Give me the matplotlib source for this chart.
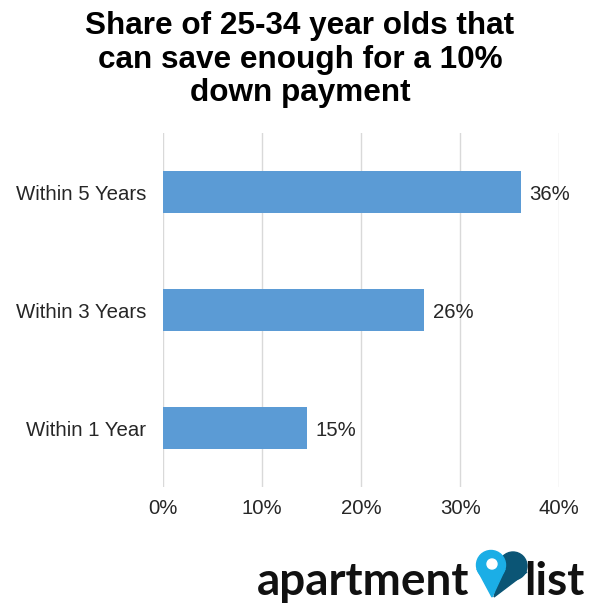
import matplotlib
matplotlib.use("Agg")
import matplotlib.pyplot as plt
from matplotlib.patches import Circle, Polygon

plt.rcParams['font.family'] = ['Liberation Sans', 'DejaVu Sans']

# data
categories = ["Within 1 Year", "Within 3 Years", "Within 5 Years"]
shares = [14.6, 26.4, 36.1]
x_ticks = [0, 10, 20, 30, 40]
x_tick_labels = ["0%", "10%", "20%", "30%", "40%"]
title = "Share of 25-34 year olds that\ncan save enough for a 10%\ndown payment"

W, H = 600, 613
fig = plt.figure(figsize=(W / 100, H / 100), dpi=100)

ax = fig.add_axes([162.7 / W, 126 / H, (559.3 - 162.7) / W, 354 / H])
bars = ax.barh(categories, shares, height=0.35, color="#5B9BD5", zorder=3)
lbls = ax.bar_label(bars, labels=[f"{v:.0f}%" for v in shares], padding=6,
                    fontsize=14.7, color="#262626")
for t in lbls:
    t.set_va("center_baseline")
ax.set_xlim(0, 40)
ax.set_ylim(-0.5, 2.5)
ax.set_xticks(x_ticks)
ax.set_xticklabels(x_tick_labels)
ax.tick_params(axis="x", length=0, pad=9, labelsize=14.7, labelcolor="#262626")
ax.tick_params(axis="y", length=0, pad=12, labelsize=14.7, labelcolor="#262626")
ax.grid(axis="x", color="#D9D9D9", linewidth=1, zorder=0)
for s in ax.spines.values():
    s.set_visible(False)

fig.text(0.5, 1 - 11 / H, title, ha="center", va="top", fontsize=22.7,
         fontweight="bold", linespacing=1.16)

# logo, drawn in pixel coords
lx = fig.add_axes([0, 0, 1, 1], zorder=-1)
lx.set_xlim(0, W)
lx.set_ylim(H, 0)
lx.axis("off")
lx.text(257, 595, "apartment", fontsize=33, fontweight="bold",
        family="Lato", va="baseline", ha="left", color="#111111")
lx.text(524, 595, "list", fontsize=33, fontweight="bold",
        family="Lato", va="baseline", ha="left", color="#111111")
dark = "#0B5575"
light = "#1BAEE6"
lx.add_patch(Circle((513, 566), 14, color=dark))
lx.add_patch(Polygon([(500, 572), (527, 572), (494, 597)], color=dark))
lx.add_patch(Circle((491, 565), 14.5, color=light))
lx.add_patch(Polygon([(477, 569), (505, 569), (492, 597)], color=light))
lx.add_patch(Circle((492, 564), 5, color="white"))

fig.savefig("out.png", dpi=100)
